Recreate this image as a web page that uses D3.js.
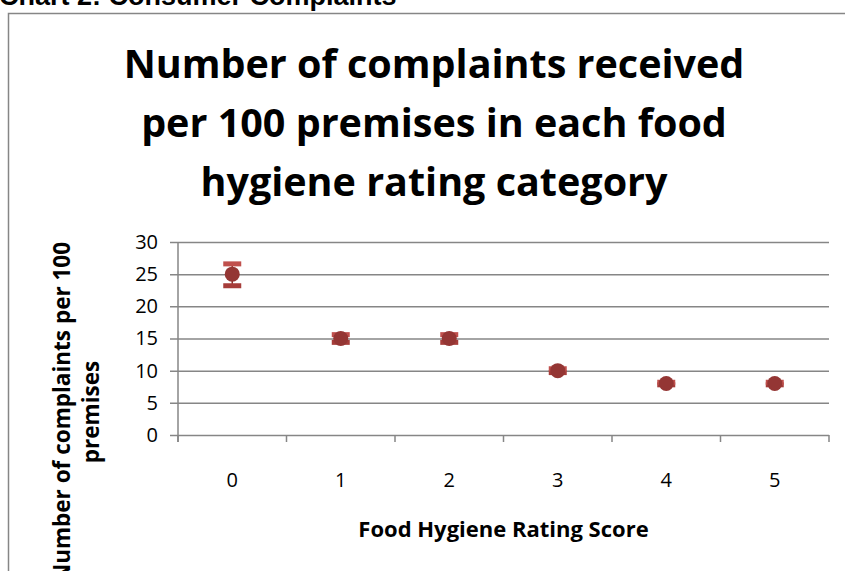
<!DOCTYPE html>
<html>
<head>
<meta charset="utf-8">
<script src="https://cdn.jsdelivr.net/npm/d3@7"></script>
<style>
  body { margin: 0; background: #fff; overflow: hidden; }
  svg { display: block; }
</style>
</head>
<body>
<div id="chart"></div>
<script>
// ratings and complaint rates
const ratings = ["0", "1", "2", "3", "4", "5"];
const complaints = [25, 15, 15, 10, 8, 8];
const errLow = [23.2, 14.4, 14.4, 9.7, 7.8, 7.8];
const errHigh = [26.6, 15.6, 15.6, 10.3, 8.2, 8.2];
const yTicks = [0, 5, 10, 15, 20, 25, 30];
const titleLines = ["Number of complaints received", "per 100 premises in each food", "hygiene rating category"];

const W = 845, H = 571;
const plot = {left: 178, right: 829, top: 242, bottom: 435};
const grey = "#868686";
const font = "'Open Sans', sans-serif";

const svg = d3.select("#chart").append("svg")
    .attr("width", W)
    .attr("height", H);

// page header, cut off at the top
svg.append("text")
    .attr("x", -1)
    .attr("y", 5)
    .attr("font-family", "'Liberation Sans', Arial, sans-serif")
    .attr("font-weight", "bold")
    .attr("font-size", 27)
    .text("Chart 2: Consumer Complaints");

// chart frame (left and top edges only visible)
svg.append("path")
    .attr("d", "M8.5," + H + "V13.5H" + W)
    .attr("fill", "none")
    .attr("stroke", grey)
    .attr("stroke-width", 1.5);

// title
svg.append("g").selectAll("text")
    .data(titleLines)
    .join("text")
    .attr("x", 434)
    .attr("y", (d, i) => 78 + i * 59)
    .attr("text-anchor", "middle")
    .attr("font-family", font)
    .attr("font-weight", "bold")
    .attr("font-size", 39.5)
    .attr("fill", "#000")
    .text(d => d);

// scales
const x = d3.scaleBand()
    .domain(ratings)
    .range([plot.left, plot.right]);

const y = d3.scaleLinear()
    .domain([0, 30])
    .range([plot.bottom, plot.top]);

// y axis with gridlines
const yAxis = svg.append("g")
    .attr("transform", "translate(" + plot.left + ",0)")
    .call(d3.axisLeft(y).tickValues(yTicks)
        .tickSizeInner(-(plot.right - plot.left)));
yAxis.select(".domain").remove();
yAxis.selectAll(".tick line")
    .attr("x1", -8)
    .attr("stroke", grey)
    .attr("stroke-width", 1.5);
yAxis.selectAll(".tick text")
    .attr("x", -20)
    .attr("font-family", font)
    .attr("font-size", 20)
    .attr("fill", "#000");

// vertical axis line
svg.append("line")
    .attr("x1", plot.left).attr("x2", plot.left)
    .attr("y1", y(30)).attr("y2", plot.bottom + 7)
    .attr("stroke", grey)
    .attr("stroke-width", 1.5);

// x axis: ticks between categories
const xAxis = svg.append("g")
    .attr("transform", "translate(0," + plot.bottom + ")");
xAxis.selectAll("line.tick")
    .data(ratings.map(r => x(r)).concat([plot.right]))
    .join("line")
    .attr("class", "tick")
    .attr("x1", d => d).attr("x2", d => d)
    .attr("y1", 0).attr("y2", 7)
    .attr("stroke", grey)
    .attr("stroke-width", 1.5);
xAxis.selectAll("text")
    .data(ratings)
    .join("text")
    .attr("x", d => x(d) + x.bandwidth() / 2)
    .attr("y", 52)
    .attr("text-anchor", "middle")
    .attr("font-family", font)
    .attr("font-size", 20)
    .attr("fill", "#000")
    .text(d => d);

// axis titles
svg.append("text")
    .attr("x", (plot.left + plot.right) / 2)
    .attr("y", 537)
    .attr("text-anchor", "middle")
    .attr("font-family", font)
    .attr("font-weight", "bold")
    .attr("font-size", 22)
    .text("Food Hygiene Rating Score");

const yTitle = svg.append("text")
    .attr("transform", "translate(70,412) rotate(-90)")
    .attr("text-anchor", "middle")
    .attr("font-family", font)
    .attr("font-weight", "bold")
    .attr("font-size", 22.5);
yTitle.append("tspan").attr("x", 0).attr("dy", 0).text("Number of complaints per 100");
yTitle.append("tspan").attr("x", 0).attr("dy", 29).text("premises");

// error bars and markers
const pts = ratings.map((r, i) => ({r: r, v: complaints[i], lo: errLow[i], hi: errHigh[i]}));
const cx = d => x(d.r) + x.bandwidth() / 2;

const marks = svg.append("g");
marks.selectAll("line.stem")
    .data(pts)
    .join("line")
    .attr("class", "stem")
    .attr("x1", cx).attr("x2", cx)
    .attr("y1", d => y(d.hi)).attr("y2", d => y(d.lo))
    .attr("stroke", "#8c2f2d")
    .attr("stroke-width", 1.5);
["lo", "hi"].forEach(k => {
    marks.selectAll("line.cap-" + k)
        .data(pts)
        .join("line")
        .attr("class", "cap-" + k)
        .attr("x1", d => cx(d) - 9).attr("x2", d => cx(d) + 9)
        .attr("y1", d => y(d[k])).attr("y2", d => y(d[k]))
        .attr("stroke", k === "hi" ? "#c0504d" : "#a63d3a")
        .attr("stroke-width", 5);
});
marks.selectAll("circle")
    .data(pts)
    .join("circle")
    .attr("cx", cx)
    .attr("cy", d => y(d.v))
    .attr("r", 7.5)
    .attr("fill", "#943634");
</script>
</body>
</html>
